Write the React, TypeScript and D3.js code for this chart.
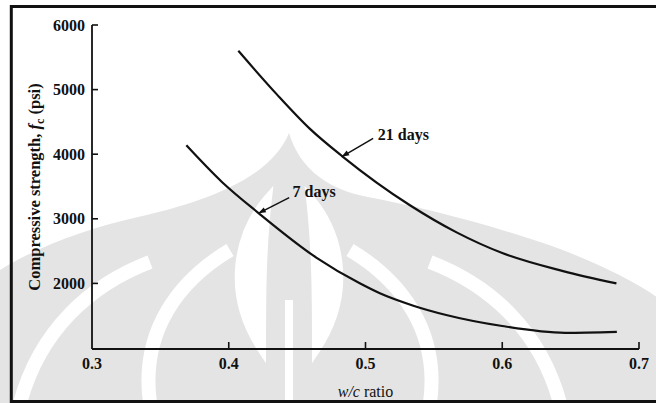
import React from 'react';
import * as d3 from 'd3';

// values (w/c ratio vs compressive strength, psi)
const days21W = [0.407, 0.435, 0.459, 0.4835, 0.5325, 0.5666, 0.6, 0.6445, 0.6835];
const days21F = [5600, 4930, 4400, 3960, 3210, 2790, 2470, 2190, 2000];
const days7W = [0.369, 0.395, 0.422, 0.464, 0.4958, 0.5105, 0.535, 0.559, 0.6, 0.646, 0.6838];
const days7F = [4137, 3570, 3085, 2400, 2001, 1847, 1655, 1511, 1340, 1235, 1250];

const xTicks = [0.3, 0.4, 0.5, 0.6, 0.7];
const yTicks = [2000, 3000, 4000, 5000, 6000];

// annotation label, arrow tail and arrow tip, in data units
const labels = ['21 days', '7 days'];
const labelPos = [[0.509, 4225], [0.4467, 3340]];
const arrowTail = [[0.5056, 4246], [0.4442, 3327]];
const arrowTip = [[0.4825, 3960], [0.4216, 3085]];

const W = 656;
const H = 403;
const font = '"Liberation Serif", "DejaVu Serif", serif';

// faint scanned watermark behind the plot
const markFill =
  'M289,133 C300,170 330,190 368,197 C420,207 480,222 540,242 C600,262 650,290 660,300 L660,403 L0,403 L0,270 C40,245 90,228 138,217 C200,203 270,180 289,133 Z';
const markBands = [
  'M20,403 C40,330 90,285 150,262',
  'M150,403 C140,330 180,280 230,250',
  'M430,403 C440,330 400,280 350,250',
  'M560,403 C540,330 490,285 430,262',
];
const markFlames = [
  'M268,198 C240,230 222,290 262,350 C262,300 262,250 268,198 Z',
  'M310,198 C338,230 356,290 316,350 C316,300 316,250 310,198 Z',
];

export default function App() {
  const x = d3.scaleLinear().domain([0.3, 0.7]).range([92, 639]);
  const y = d3.scaleLinear().domain([1000, 6000]).range([348, 25]);

  const line = d3
    .line<[number, number]>()
    .x((d) => x(d[0]))
    .y((d) => y(d[1]))
    .curve(d3.curveMonotoneX);

  const s21 = days21W.map((w, i) => [w, days21F[i]] as [number, number]);
  const s7 = days7W.map((w, i) => [w, days7F[i]] as [number, number]);

  const x0 = x(0.3);
  const yBase = y(1000) + 1;

  return (
    <div style={{ position: 'absolute', left: 0, top: 0 }}>
      <svg width={W} height={H} style={{ display: 'block', background: '#fff' }}>
        <g>
          <path d={markFill} fill="#e4e4e4" />
          {markBands.map((d, i) => (
            <path key={i} d={d} fill="none" stroke="#fff" strokeWidth={14} />
          ))}
          {markFlames.map((d, i) => (
            <path key={i} d={d} fill="#fff" stroke="#fff" strokeWidth={8} />
          ))}
          <path d="M289,300 L289,403" stroke="#fff" strokeWidth={8} />
        </g>

        {/* frame */}
        <rect x={11.3} y={6.5} width={700} height={395} fill="none" stroke="#111" strokeWidth={3} />

        {/* y axis */}
        <line x1={x0} x2={x0} y1={y(6000)} y2={yBase} stroke="#111" strokeWidth={1.8} />
        {yTicks.map((t) => (
          <g key={t}>
            <line x1={x0} x2={x0 + 6} y1={y(t)} y2={y(t)} stroke="#111" strokeWidth={1.6} />
            <text
              x={x0 - 7}
              y={y(t) + 5.5}
              textAnchor="end"
              fontFamily={font}
              fontSize={16}
              fontWeight="bold"
              fill="#111"
            >
              {t}
            </text>
          </g>
        ))}

        {/* x axis */}
        <line x1={x0} x2={x(0.7)} y1={yBase} y2={yBase} stroke="#111" strokeWidth={1.8} />
        {xTicks.map((t) => (
          <g key={t}>
            {t > 0.3 && (
              <line x1={x(t)} x2={x(t)} y1={yBase} y2={yBase - 7} stroke="#111" strokeWidth={1.6} />
            )}
            <text
              x={x(t)}
              y={yBase + 20}
              textAnchor="middle"
              fontFamily={font}
              fontSize={16}
              fontWeight="bold"
              fill="#111"
            >
              {t.toFixed(1)}
            </text>
          </g>
        ))}

        {/* axis titles */}
        <text
          transform={`translate(40,187) rotate(-90)`}
          textAnchor="middle"
          fontFamily={font}
          fontSize={16.5}
          fontWeight="bold"
          fill="#111"
        >
          Compressive strength,{' '}
          <tspan fontStyle="italic">f</tspan>
          <tspan fontSize={12} dy={4}>c</tspan>
          <tspan dy={-4}> (psi)</tspan>
        </text>
        <text
          x={x(0.5)}
          y={397}
          textAnchor="middle"
          fontFamily={font}
          fontSize={16}
          fill="#111"
        >
          <tspan fontStyle="italic">w/c</tspan> ratio
        </text>

        {/* curves */}
        <path d={line(s21) || ''} fill="none" stroke="#111" strokeWidth={2.2} />
        <path d={line(s7) || ''} fill="none" stroke="#111" strokeWidth={2.2} />

        {/* annotations */}
        {labels.map((lab, i) => {
          const tx = x(arrowTail[i][0]);
          const ty = y(arrowTail[i][1]);
          const px = x(arrowTip[i][0]);
          const py = y(arrowTip[i][1]);
          const ang = Math.atan2(py - ty, px - tx);
          const len = 8;
          const spread = 0.35;
          const head = [
            [px, py],
            [px - len * Math.cos(ang - spread), py - len * Math.sin(ang - spread)],
            [px - len * Math.cos(ang + spread), py - len * Math.sin(ang + spread)],
          ];
          return (
            <g key={lab}>
              <line x1={tx} y1={ty} x2={px} y2={py} stroke="#111" strokeWidth={1.5} />
              <path d={`M${head.map((p) => p.join(',')).join('L')}Z`} fill="#111" />
              <text
                x={x(labelPos[i][0])}
                y={y(labelPos[i][1])}
                fontFamily={font}
                fontSize={16}
                fontWeight="bold"
                fill="#111"
              >
                {lab}
              </text>
            </g>
          );
        })}
      </svg>
    </div>
  );
}
